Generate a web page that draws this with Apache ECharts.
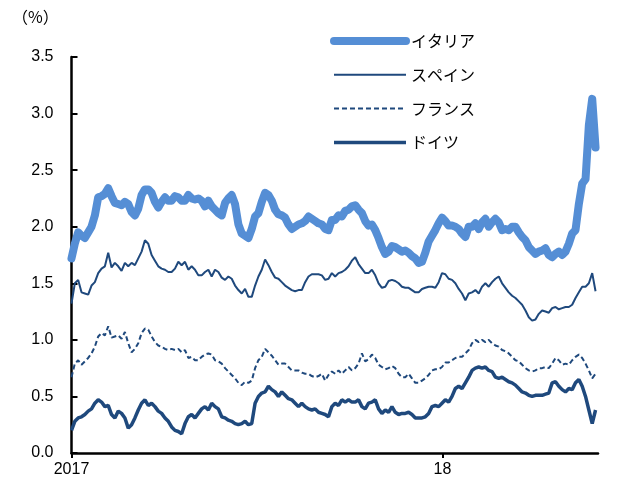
<!DOCTYPE html>
<html><head><meta charset="utf-8">
<script src="https://cdn.jsdelivr.net/npm/echarts@6/dist/echarts.min.js"></script>
<style>html,body{margin:0;padding:0;background:#fff}#c{width:623px;height:485px}</style>
</head><body><div id="c"></div>
<script>
const seriesNames = ['イタリア', 'スペイン', 'フランス', 'ドイツ'];
const xTickLabels = ['2017', '18'];
const xTickDays = [0, 365];      // days since 2017-01-01 (2017-01-01, 2018-01-01)
const xMaxDays = 518;            // ≈ 2018-06-02
const sampleStepDays = 3.284;    // sampling interval of the read-off points

const italy = [1.72,1.85,1.95,1.92,1.90,1.95,2.00,2.10,2.26,2.27,2.29,2.34,2.27,2.21,2.20,2.19,2.22,2.20,2.13,2.10,
2.16,2.28,2.33,2.33,2.30,2.22,2.17,2.22,2.26,2.23,2.23,2.27,2.26,2.23,2.23,2.28,2.25,2.24,2.25,2.23,
2.18,2.23,2.18,2.15,2.12,2.10,2.21,2.25,2.28,2.20,2.02,1.94,1.92,1.90,1.98,2.09,2.12,2.22,2.30,2.28,
2.23,2.15,2.11,2.10,2.08,2.02,1.98,2.00,2.02,2.03,2.05,2.09,2.07,2.05,2.03,2.02,1.98,1.97,2.06,2.06,
2.10,2.09,2.14,2.15,2.18,2.19,2.15,2.12,2.05,2.01,2.02,1.97,1.90,1.82,1.76,1.78,1.83,1.82,1.80,1.78,
1.79,1.77,1.74,1.72,1.68,1.69,1.77,1.87,1.92,1.97,2.03,2.08,2.05,2.01,2.01,2.00,1.98,1.94,1.91,2.00,
2.00,2.03,1.98,2.04,2.07,2.00,2.04,2.07,2.04,1.97,1.98,1.97,2.00,2.00,1.95,1.91,1.88,1.82,1.79,1.76,
1.78,1.79,1.81,1.75,1.73,1.76,1.78,1.75,1.78,1.85,1.94,1.97,2.20,2.38,2.42,2.90,3.13,2.70];

const spain = [1.32,1.50,1.53,1.42,1.41,1.40,1.48,1.51,1.59,1.63,1.65,1.77,1.64,1.68,1.65,1.61,1.68,1.65,1.68,1.66,
1.72,1.78,1.88,1.85,1.75,1.70,1.65,1.63,1.62,1.60,1.60,1.63,1.69,1.66,1.69,1.62,1.65,1.62,1.57,1.57,
1.60,1.62,1.56,1.62,1.60,1.55,1.53,1.56,1.54,1.48,1.44,1.41,1.45,1.38,1.38,1.48,1.56,1.62,1.71,1.66,
1.60,1.55,1.54,1.51,1.48,1.46,1.44,1.43,1.44,1.44,1.51,1.56,1.58,1.58,1.58,1.57,1.53,1.54,1.59,1.56,
1.59,1.60,1.62,1.65,1.70,1.73,1.67,1.63,1.59,1.59,1.62,1.57,1.50,1.46,1.47,1.52,1.53,1.52,1.50,1.47,
1.46,1.46,1.44,1.42,1.42,1.45,1.46,1.47,1.47,1.46,1.51,1.59,1.58,1.54,1.53,1.50,1.45,1.41,1.35,1.41,
1.42,1.44,1.41,1.47,1.50,1.47,1.51,1.54,1.56,1.50,1.46,1.42,1.39,1.37,1.34,1.31,1.26,1.20,1.17,1.18,
1.23,1.26,1.25,1.24,1.28,1.29,1.27,1.28,1.29,1.29,1.31,1.37,1.42,1.47,1.47,1.50,1.59,1.43];

const france = [0.67,0.79,0.82,0.78,0.81,0.84,0.88,0.94,1.03,1.06,1.04,1.12,1.02,1.03,1.04,1.01,1.07,0.97,0.89,0.92,
0.97,1.06,1.10,1.09,1.03,0.98,0.95,0.94,0.92,0.91,0.92,0.91,0.92,0.89,0.91,0.84,0.85,0.82,0.82,0.85,
0.87,0.88,0.87,0.82,0.81,0.79,0.75,0.72,0.69,0.66,0.62,0.60,0.63,0.62,0.64,0.75,0.82,0.85,0.92,0.89,
0.86,0.82,0.78,0.79,0.79,0.76,0.73,0.73,0.73,0.71,0.70,0.70,0.68,0.67,0.68,0.70,0.64,0.69,0.72,0.70,
0.73,0.70,0.73,0.76,0.73,0.75,0.79,0.88,0.81,0.83,0.87,0.84,0.78,0.76,0.74,0.75,0.77,0.75,0.70,0.67,
0.67,0.70,0.66,0.62,0.62,0.64,0.66,0.69,0.73,0.74,0.74,0.76,0.80,0.80,0.82,0.84,0.85,0.85,0.88,0.91,
0.97,1.00,0.98,1.00,0.98,1.00,0.97,0.95,0.94,0.91,0.90,0.88,0.85,0.82,0.81,0.78,0.75,0.73,0.72,0.73,
0.75,0.75,0.76,0.75,0.79,0.84,0.82,0.78,0.79,0.78,0.82,0.85,0.87,0.84,0.79,0.73,0.66,0.70];

const germany = [0.20,0.28,0.31,0.32,0.34,0.37,0.39,0.44,0.47,0.45,0.41,0.42,0.34,0.31,0.37,0.35,0.31,0.22,0.25,0.31,
0.38,0.44,0.47,0.42,0.44,0.41,0.37,0.35,0.31,0.28,0.23,0.20,0.19,0.17,0.26,0.32,0.34,0.31,0.35,0.39,
0.41,0.38,0.44,0.41,0.39,0.32,0.31,0.29,0.28,0.26,0.25,0.26,0.28,0.25,0.26,0.44,0.50,0.53,0.54,0.59,
0.56,0.54,0.50,0.54,0.51,0.48,0.47,0.44,0.41,0.44,0.41,0.39,0.38,0.39,0.36,0.35,0.34,0.32,0.41,0.44,
0.42,0.47,0.45,0.47,0.45,0.45,0.47,0.41,0.39,0.44,0.45,0.47,0.39,0.35,0.38,0.36,0.41,0.36,0.34,0.35,
0.35,0.36,0.34,0.31,0.31,0.31,0.32,0.35,0.41,0.42,0.41,0.44,0.47,0.45,0.50,0.57,0.59,0.57,0.62,0.67,
0.73,0.75,0.76,0.75,0.76,0.73,0.72,0.67,0.66,0.67,0.65,0.63,0.62,0.60,0.57,0.54,0.53,0.51,0.50,0.51,
0.51,0.51,0.52,0.53,0.62,0.63,0.59,0.56,0.54,0.57,0.56,0.62,0.65,0.59,0.50,0.38,0.26,0.38];

function pair(vals) {
  return vals.map((v, i) => [i * sampleStepDays, v]);
}

const dark = '#1f497d';
const light = '#558ed5';
const font = '"Liberation Sans", Arial, "Noto Sans CJK JP", sans-serif';

const chart = echarts.init(document.getElementById('c'), null, {renderer: 'canvas'});
chart.setOption({
  animation: false,
  backgroundColor: '#fff',
  textStyle: {fontFamily: font},
  graphic: [{
    type: 'text', left: 12, top: 9,
    style: {text: '（%）', fontSize: 16, fontFamily: 'Noto Sans CJK JP', fill: '#000'}
  }],
  legend: {
    orient: 'vertical', left: 325, top: 28,
    itemWidth: 72, itemHeight: 18, itemGap: 17.8,
    data: seriesNames,
    itemStyle: {opacity: 0},
    lineStyle: {width: 'inherit'},
    textStyle: {fontSize: 16, color: '#000', fontFamily: '"Noto Sans CJK JP", sans-serif'}
  },
  grid: {left: 71.5, right: 25, top: 57, bottom: 32, containLabel: false},
  xAxis: {
    type: 'value',
    min: 0,
    max: xMaxDays,
    axisLine: {lineStyle: {color: '#000', width: 2.5}},
    axisTick: {show: true, length: 5, lineStyle: {color: '#000', width: 2}, customValues: xTickDays},
    axisLabel: {
      customValues: xTickDays,
      fontSize: 16, color: '#000', margin: 9,
      formatter: function (v) {
        const i = xTickDays.indexOf(v);
        return i >= 0 ? xTickLabels[i] : '';
      }
    },
    splitLine: {show: false}
  },
  yAxis: {
    type: 'value', min: 0, max: 3.5, interval: 0.5,
    axisLine: {show: true, lineStyle: {color: '#000', width: 2.5}},
    axisTick: {show: true, inside: true, length: 6, lineStyle: {color: '#000', width: 2}},
    axisLabel: {fontSize: 16, color: '#000', margin: 18, formatter: v => v.toFixed(1)},
    splitLine: {show: false}
  },
  series: [
    {name: seriesNames[1], type: 'line', data: pair(spain), symbol: 'none', lineStyle: {color: dark, width: 2}, itemStyle: {color: dark}, z: 3},
    {name: seriesNames[2], type: 'line', data: pair(france), symbol: 'none', lineStyle: {color: dark, width: 2, type: [5, 3]}, itemStyle: {color: dark}, z: 3},
    {name: seriesNames[3], type: 'line', data: pair(germany), symbol: 'none', lineStyle: {color: dark, width: 3.5}, itemStyle: {color: dark}, z: 3},
    {name: seriesNames[0], type: 'line', data: pair(italy), symbol: 'none', lineStyle: {color: light, width: 8, cap: 'round', join: 'round'}, itemStyle: {color: light}, z: 2}
  ]
});
</script></body></html>
